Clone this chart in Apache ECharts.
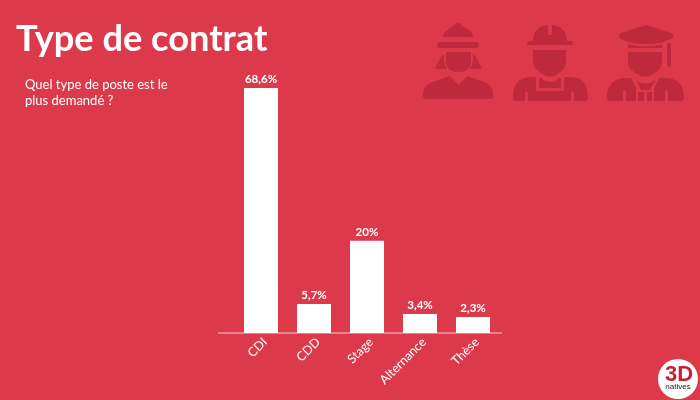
<!DOCTYPE html>
<html><head><meta charset="utf-8">
<style>html,body{margin:0;padding:0;background:#DC3A4B}#c{width:700px;height:400px}</style>
<script src="https://cdn.jsdelivr.net/npm/echarts@6/dist/echarts.min.js"></script>
</head><body><div id="c"></div>
<script>
const categories = ["CDI","CDD","Stage","Alternance","Thèse"];
const barValues = [68.6,8.1,25.8,5.3,4.5];
const valueLabels = ["68,6%","5,7%","20%","3,4%","2,3%"];
const BG="#DC3A4B", ICON="#BF293D", FONT="Lato, 'Open Sans', sans-serif";
const ic = d => ({type:'path',silent:true,shape:{pathData:d},style:{fill:ICON}});
const cut = d => ({type:'path',silent:true,shape:{pathData:d},style:{fill:BG}});
const iconPaths = [
 // woman
 ic("M443 37 C443 32 447 31 449 29 C451 27 453 27 454 25 C456 22 460 22 462 25 C463 27 466 27 468 29 C470 31 473 33 473 37 Z"),
 ic("M440 42 H476 A3 3 0 0 1 476 48 H440 A3 3 0 0 1 440 42 Z"),
 ic("M446 52 H471 V62 C471 69 465 72 458.5 72 C452 72 446 69 446 62 Z"),
 ic("M444 54 C441 56 440 59 438 63 C436 66 434 69 438 69 H447 C445 66 444 62 444 54 Z"),
 ic("M473 54 C476 56 477 59 479 63 C481 66 483 69 479 69 H470 C472 66 473 62 473 54 Z"),
 ic("M450 76 L458.5 85 L467 76 L484 82 C491 85 493 89 493 96 C493 98 492 99 490 99 H426 C424 99 423 98 423 96 C423 89 425 85 432 82 Z"),
 // worker
 ic("M533 41 C533 31 540 25 548 25 V35 H552 V25 C560 25 567 31 567 41 Z"),
 ic("M529 41 H571 A2 2 0 0 1 571 45 H529 A2 2 0 0 1 529 41 Z"),
 ic("M533 50 H566 V62 C566 69 560 72 556 75 C553 77 547 77 544 75 C540 72 533 69 533 62 Z"),
 ic("M530 77 H536 V91 H564 V77 H572 C583 78 588 85 588 97 C588 100 587 101 585 101 H517 C514 101 513 100 513 97 C513 85 518 78 530 77 Z"),
 ic("M539 78 H542 C544 83 556 83 558 78 H561 V88 H539 Z"),
 cut("M525 92 C527 90 528 92 528 94 V101 H525 Z"),
 cut("M571 92 C573 90 574 92 574 94 V101 H571 Z"),
 // graduate
 ic("M646 25 L671 33 C674 35 674 38 671 39 L664 42 C652 45 640 45 628 42 L621 39 C618 37 618 35 621 33 Z"),
 ic("M628 44 C640 47 652 47 662 44 V48 H628 Z"),
 ic("M667 43 H671 V65 A2 2 0 0 1 667 65 Z"),
 ic("M628 52 H662 V62 C662 69 656 72 652 75 C649 77 642 77 639 75 C634 72 628 69 628 62 Z"),
 ic("M622 78 H631 L636 88 V101 H611 C608 101 607 100 607 97 C607 87 612 80 622 78 Z"),
 ic("M659 78 H669 C679 80 684 87 684 97 C684 100 683 101 680 101 H654 V88 Z"),
 ic("M638 92 H644 V101 H638 Z M647 92 H652 V101 H647 Z"),
 ic("M636 79 C639 85 651 85 656 79 L650 90 H641 Z"),
 cut("M623 91 C625 89 626 91 626 93 V101 H623 Z"),
 cut("M665 91 C667 89 668 91 668 93 V101 H665 Z")
];
const chart = echarts.init(document.getElementById('c'),null,{renderer:'canvas'});
chart.setOption({
 animation:false,
 backgroundColor:BG,
 title:{text:"Type de contrat",left:11,top:16,textStyle:{color:"#fff",fontFamily:FONT,fontWeight:700,fontSize:36.2}},
 grid:[{left:234.5,right:200.5,top:88,bottom:67},{left:238.5,right:196.5,top:88,bottom:67}],
 xAxis:[{type:'category',gridIndex:0,data:categories,axisLine:{show:false},axisTick:{show:false},axisLabel:{show:false}},
  {type:'category',gridIndex:1,data:categories,axisLine:{show:false},axisTick:{show:false},
   axisLabel:{color:"#fff",fontFamily:FONT,fontSize:12.5,rotate:45,margin:7,interval:0}}],
 yAxis:[{type:'value',gridIndex:0,min:0,max:68.6,show:false,splitLine:{show:false}},
  {type:'value',gridIndex:1,min:0,max:68.6,show:false,splitLine:{show:false}}],
 series:[{type:'bar',data:barValues,barWidth:34,itemStyle:{color:"#fff"},
  label:{show:true,position:'top',distance:3,color:"#fff",fontFamily:FONT,fontWeight:700,fontSize:11.5,
   formatter:p=>valueLabels[p.dataIndex]}},
  {type:'custom',silent:true,data:[0],tooltip:{show:false},
   renderItem:()=>({type:'group',children:iconPaths})}],
 graphic:[
  {type:'line',silent:true,shape:{x1:218,y1:333,x2:502,y2:333},style:{stroke:"#F7C9CE",lineWidth:1}},
  {type:'text',silent:true,x:25,y:77,style:{text:"Quel type de poste est le\nplus demandé ?",fill:"#fff",fontFamily:FONT,fontSize:13,lineHeight:16}},
  {type:'circle',silent:true,shape:{cx:678,cy:379,r:20},style:{fill:"#fff"}},
  {type:'text',silent:true,x:679,y:364,style:{text:"3D",fill:"#C8202F",fontFamily:"'Liberation Sans',sans-serif",fontWeight:900,fontSize:22,align:'center'}},
  {type:'text',silent:true,x:678,y:383,style:{text:"natives",fill:"#222",fontFamily:"'Liberation Sans',sans-serif",fontSize:8,align:'center'}}
 ]
});
</script></body></html>
